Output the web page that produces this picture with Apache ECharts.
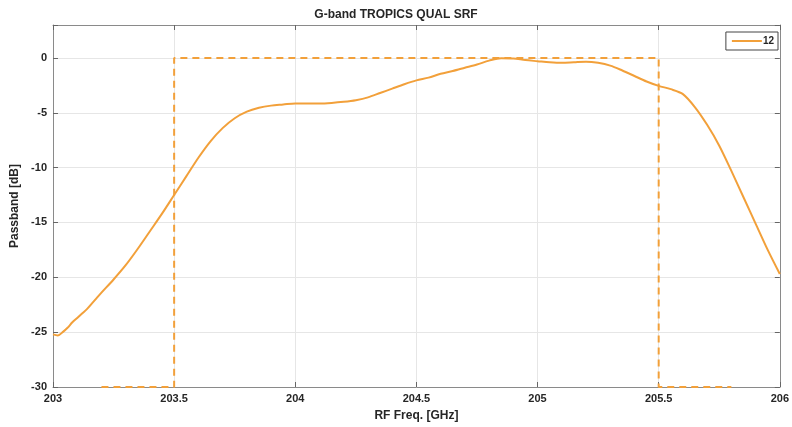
<!DOCTYPE html>
<html>
<head>
<meta charset="utf-8">
<script src="https://cdn.jsdelivr.net/npm/echarts@6/dist/echarts.min.js"></script>
<style>html,body{margin:0;padding:0;background:#fff;}#c{width:792px;height:427px;}</style>
</head>
<body>
<div id="c"></div>
<script>
const freq = [203.00,203.02,203.04,203.06,203.08,203.10,203.12,203.14,203.16,203.18,203.20,203.25,203.30,203.35,203.40,203.45,203.50,203.55,203.60,203.65,203.70,203.75,203.80,203.85,203.90,203.95,204.00,204.05,204.10,204.15,204.20,204.25,204.30,204.35,204.40,204.45,204.50,204.55,204.60,204.65,204.70,204.75,204.80,204.85,204.90,204.95,205.00,205.05,205.10,205.15,205.20,205.25,205.30,205.35,205.40,205.45,205.50,205.55,205.60,205.65,205.70,205.75,205.80,205.85,205.90,205.95,206.00];
const passband = [-25.2,-25.3,-25.0,-24.6,-24.1,-23.7,-23.3,-22.9,-22.4,-21.9,-21.4,-20.2,-18.9,-17.4,-15.8,-14.2,-12.5,-10.8,-9.1,-7.6,-6.4,-5.5,-4.9,-4.55,-4.35,-4.25,-4.15,-4.15,-4.15,-4.1,-4.0,-3.85,-3.6,-3.2,-2.8,-2.4,-2.05,-1.8,-1.45,-1.2,-0.9,-0.6,-0.25,-0.02,-0.05,-0.2,-0.3,-0.4,-0.45,-0.4,-0.35,-0.45,-0.7,-1.15,-1.65,-2.15,-2.55,-2.85,-3.3,-4.5,-6.1,-8.0,-10.3,-12.7,-15.1,-17.5,-19.7];
const maskFreq = [203.2,203.5,203.5,205.5,205.5,205.8];
const maskDb = [-30,-30,0,0,-30,-30];
const seriesName = '12';
const titleText = 'G-band TROPICS QUAL SRF';
const xName = 'RF Freq. [GHz]';
const yName = 'Passband [dB]';

const color = '#F2A03A';
const font = 'Liberation Sans, Arial, Helvetica, sans-serif';
const chart = echarts.init(document.getElementById('c'));
const axisCommon = {
  axisLine: {show: true, onZero: false, lineStyle: {color: '#8a8a8a', width: 1}},
  axisTick: {show: true, inside: true, length: 5, lineStyle: {color: '#666'}},
};
chart.setOption({
  animation: false,
  backgroundColor: '#fff',
  title: {text: titleText, left: 'center', top: 4,
    textStyle: {fontFamily: font, fontSize: 12, fontWeight: 'bold', color: '#262626'}},
  legend: {
    data: [{name: seriesName, icon: 'rect'}],
    top: 32, right: 14, orient: 'vertical',
    itemWidth: 30, itemHeight: 2, itemGap: 4,
    borderColor: '#444', borderWidth: 1, padding: [4, 4, 4, 6],
    backgroundColor: '#fff',
    textStyle: {fontFamily: font, fontSize: 10, fontWeight: 'bold', color: '#262626', padding: [0,0,0,-4]}
  },
  grid: {left: 53, right: 8, top: 25, bottom: 39},
  xAxis: [
    Object.assign({
      type: 'value', min: 203, max: 206, interval: 0.5, position: 'bottom',
      name: xName, nameLocation: 'middle', nameGap: 23,
      nameTextStyle: {fontFamily: font, fontSize: 12, fontWeight: 'bold', color: '#262626'},
      axisLabel: {fontFamily: font, fontSize: 11, fontWeight: 'bold', color: '#262626', margin: 6},
      splitLine: {show: true, lineStyle: {color: '#e6e6e6', width: 1}}
    }, axisCommon),
    Object.assign({
      type: 'value', min: 203, max: 206, interval: 0.5, position: 'top',
      axisLabel: {show: false}, splitLine: {show: false}
    }, axisCommon)
  ],
  yAxis: [
    Object.assign({
      type: 'value', min: -30, max: 3, interval: 5, position: 'left',
      name: yName, nameLocation: 'middle', nameGap: 25, nameRotate: 90,
      nameTextStyle: {fontFamily: font, fontSize: 12, fontWeight: 'bold', color: '#262626'},
      axisLabel: {fontFamily: font, fontSize: 11, fontWeight: 'bold', color: '#262626', margin: 6,
        formatter: v => (v > 0 ? '' : String(v))},
      splitLine: {show: true, lineStyle: {color: '#e6e6e6', width: 1}}
    }, axisCommon),
    Object.assign({
      type: 'value', min: -30, max: 3, interval: 5, position: 'right',
      axisLabel: {show: false}, splitLine: {show: false}
    }, axisCommon)
  ],
  series: [
    {
      name: seriesName, type: 'line', xAxisIndex: 0, yAxisIndex: 0,
      data: freq.map((f, i) => [f, passband[i]]),
      showSymbol: false, smooth: 0.3,
      lineStyle: {color: color, width: 2}, itemStyle: {color: color}, z: 3
    },
    {
      name: 'mask', type: 'line', xAxisIndex: 0, yAxisIndex: 0,
      data: maskFreq.map((f, i) => [f, maskDb[i]]),
      showSymbol: false, clip: false,
      lineStyle: {color: color, width: 2, type: [7, 5]}, itemStyle: {color: color}, z: 2
    }
  ]
});
</script>
</body>
</html>
